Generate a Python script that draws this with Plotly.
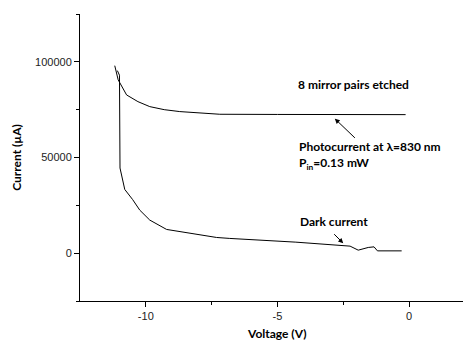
import plotly.graph_objects as go

photo_v = [-11.18, -11.05, -10.73, -10.3, -9.85, -9.3, -8.71, -7.9, -7.19, -5.0, -3.0, -0.13]
photo_i = [98000, 90600, 82700, 79200, 76600, 75000, 74000, 73200, 72600, 72500, 72400, 72400]

dark_v = [-11.08, -11.0, -10.98, -10.8, -10.5, -10.23, -9.85, -9.21, -7.31, -6.81, -4.3, -2.24, -1.93, -1.55, -1.33, -1.2, -0.28]
dark_i = [95400, 93000, 44500, 33300, 28000, 22500, 17300, 12400, 8200, 7700, 5760, 3670, 1570, 2980, 3300, 1200, 1200]

x_ticks = [-10, -5, 0]
y_ticks = [0, 50000, 100000]

fig = go.Figure()
fig.add_trace(go.Scatter(x=photo_v, y=photo_i, mode="lines",
                         line=dict(color="black", width=1), showlegend=False))
fig.add_trace(go.Scatter(x=dark_v, y=dark_i, mode="lines",
                         line=dict(color="black", width=1), showlegend=False))

tf = dict(family="Lato, Liberation Sans, Arial", size=12, color="black")

fig.add_annotation(x=-2.1, y=88000, text="<b>8 mirror pairs etched</b>", showarrow=False,
                   xanchor="center", yanchor="middle", font=tf)
fig.add_annotation(x=-2.82, y=70300, ax=-2.0, ay=59500, xref="x", yref="y", axref="x", ayref="y",
                   text="", showarrow=True, arrowhead=2, arrowsize=1, arrowwidth=1, arrowcolor="black")
fig.add_annotation(x=-4.25, y=55500, text="<b>Photocurrent at λ=830 nm</b>", showarrow=False,
                   xanchor="left", yanchor="middle", font=tf)
fig.add_annotation(x=-4.25, y=47000, text="<b>P<sub>in</sub>=0.13 mW</b>", showarrow=False,
                   xanchor="left", yanchor="middle", font=tf)
fig.add_annotation(x=-4.2, y=16300, text="<b>Dark current</b>", showarrow=False,
                   xanchor="left", yanchor="middle", font=tf)
fig.add_annotation(x=-2.5, y=5200, ax=-2.9, ay=10700, xref="x", yref="y", axref="x", ayref="y",
                   text="", showarrow=True, arrowhead=2, arrowsize=1, arrowwidth=1, arrowcolor="black")

axis_font = dict(family="Liberation Sans, Arial", size=11, color="#222")
title_font = dict(family="Lato, Liberation Sans", size=12, color="black")

fig.add_annotation(x=-5, y=-0.114, xref="x", yref="paper", text="<b>Voltage (V)</b>",
                   showarrow=False, xanchor="center", yanchor="middle", font=title_font)

fig.update_xaxes(range=[-12.5, 2.05], tickvals=x_ticks, ticktext=[str(v) for v in x_ticks],
                 showgrid=False, zeroline=False, showline=True, linecolor="black", linewidth=1,
                 ticks="outside", ticklen=5, tickcolor="black", automargin=False,
                 minor=dict(tickvals=[-7.5, -2.5], ticks="outside", ticklen=3, tickcolor="black"),
                 tickfont=axis_font)
fig.update_yaxes(range=[-25000, 125000], tickvals=y_ticks, ticktext=[str(v) for v in y_ticks],
                 showgrid=False, zeroline=False, showline=True, linecolor="black", linewidth=1,
                 ticks="outside", ticklen=5, tickcolor="black", automargin=False,
                 minor=dict(tickvals=[-25000, 25000, 75000, 125000], ticks="outside", ticklen=3, tickcolor="black"),
                 tickfont=axis_font,
                 title=dict(text="<b>Current (µA)</b>", font=title_font, standoff=10))

fig.update_layout(width=463, height=341, margin=dict(l=80, r=0, t=14, b=40),
                  plot_bgcolor="white", paper_bgcolor="white")

fig.write_html("out.html")
